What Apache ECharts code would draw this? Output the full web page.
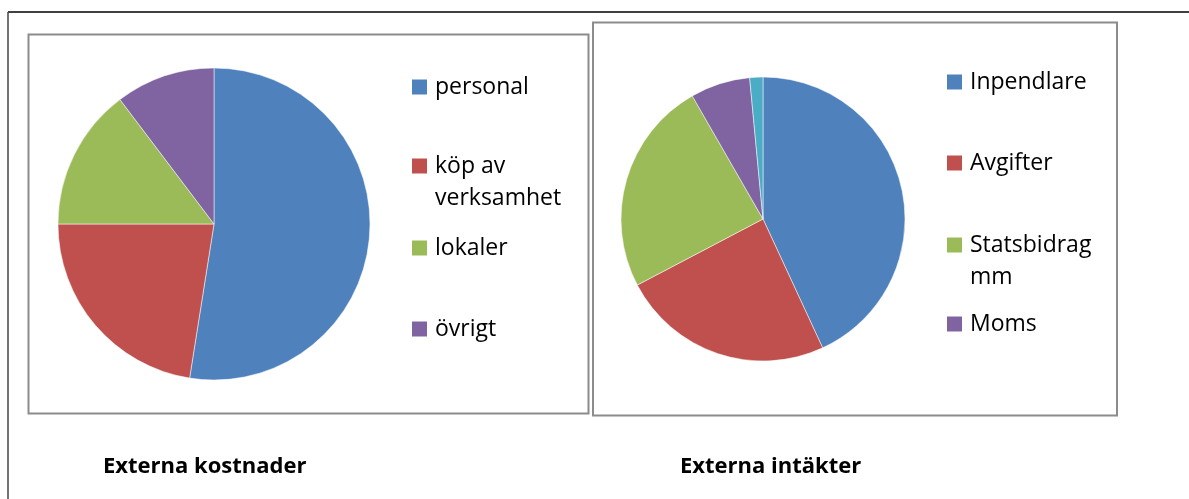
<!DOCTYPE html>
<html>
<head>
<meta charset="utf-8">
<script src="https://cdn.jsdelivr.net/npm/echarts@6/dist/echarts.min.js"></script>
<style>
  html, body { margin: 0; padding: 0; background: #fff; }
  #main { width: 1189px; height: 499px; }
</style>
</head>
<body>
<div id="main"></div>
<script>
// Externa kostnader
const costNames = ["personal", "köp av verksamhet", "lokaler", "övrigt"];
const costValues = [52.5, 22.5, 14.7, 10.3];

// Externa intäkter (last slice has no legend entry in the picture)
const incomeNames = ["Inpendlare", "Avgifter", "Statsbidrag mm", "Moms", "Övrigt"];
const incomeValues = [43.1, 24.2, 24.4, 6.8, 1.5];

const palette = ["#4f81bd", "#c0504d", "#9bbb59", "#8064a2", "#4bacc6"];

const FONT = "Open Sans";
const FS = 23;
const LH = 32;

// line breaks as in the legend of the picture (leading empty line keeps
// the square level with the first line)
const wrap = {
  "köp av verksamhet": "\nköp av\nverksamhet",
  "Statsbidrag mm": "\nStatsbidrag\nmm"
};

// legend item vertical centres (first text line)
const costLegendY = [87, 166, 248, 329];
const incomeLegendY = [82, 163, 245, 324];

const chart = echarts.init(document.getElementById("main"));

const makeLegend = (name, x, y) => {
  const multi = !!wrap[name];
  return {
    data: [name],
    left: x,
    top: multi ? y - LH * 1.5 : y - LH / 2,
    padding: 0,
    itemWidth: 15,
    itemHeight: 15,
    itemGap: 0,
    icon: "rect",
    selectedMode: false,
    itemStyle: { borderWidth: 0 },
    formatter: (n) => wrap[n] || n,
    textStyle: {
      fontFamily: FONT,
      fontSize: FS,
      lineHeight: LH,
      color: "#000",
      padding: [0, 0, 0, 3]
    }
  };
};

const legends = [];
costNames.forEach((n, i) => legends.push(makeLegend(n, 412, costLegendY[i])));
incomeNames.slice(0, 4).forEach((n, i) => legends.push(makeLegend(n, 947, incomeLegendY[i])));

const slices = (names, values) =>
  names.map((n, i) => ({ name: n, value: values[i], itemStyle: { color: palette[i] } }));

const option = {
  animation: false,
  title: [
    {
      text: "Externa kostnader",
      left: 103,
      top: 456,
      padding: 0,
      textStyle: { fontFamily: FONT, fontSize: 22, fontWeight: "bold", color: "#000" }
    },
    {
      text: "Externa intäkter",
      left: 680,
      top: 456,
      padding: 0,
      textStyle: { fontFamily: FONT, fontSize: 22, fontWeight: "bold", color: "#000" }
    }
  ],
  legend: legends,
  graphic: [
    // outer frame lines
    { type: "line", z: -10, shape: { x1: 8, y1: 12, x2: 1189, y2: 12 }, style: { stroke: "#000", lineWidth: 1.5 } },
    { type: "line", z: -10, shape: { x1: 8, y1: 12, x2: 8, y2: 499 }, style: { stroke: "#444", lineWidth: 1.5 } },
    // chart boxes
    { type: "rect", z: -10, shape: { x: 28.5, y: 34.5, width: 560, height: 379 }, style: { fill: "none", stroke: "#8c8c8c", lineWidth: 2 } },
    { type: "rect", z: -10, shape: { x: 593, y: 22.5, width: 524, height: 393 }, style: { fill: "none", stroke: "#8c8c8c", lineWidth: 2 } }
  ],
  series: [
    {
      type: "pie",
      center: [214, 224],
      radius: 156,
      startAngle: 90,
      clockwise: true,
      label: { show: false },
      labelLine: { show: false },
      emphasis: { disabled: true },
      itemStyle: { borderColor: "#fff", borderWidth: 0.5 },
      data: slices(costNames, costValues)
    },
    {
      type: "pie",
      center: [763, 219],
      radius: 142,
      startAngle: 90,
      clockwise: true,
      label: { show: false },
      labelLine: { show: false },
      emphasis: { disabled: true },
      itemStyle: { borderColor: "#fff", borderWidth: 0.5 },
      data: slices(incomeNames, incomeValues)
    }
  ]
};

chart.setOption(option);
</script>
</body>
</html>
